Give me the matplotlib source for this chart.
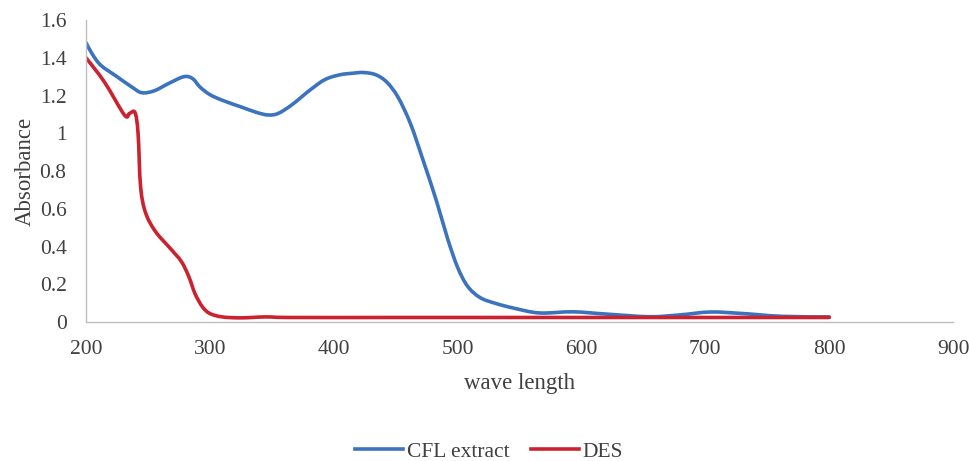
import matplotlib
matplotlib.use("Agg")
import matplotlib.pyplot as plt
from matplotlib.ticker import FixedLocator, FuncFormatter
from matplotlib.path import Path
from matplotlib.patches import PathPatch
from matplotlib.lines import Line2D

plt.rcParams['font.family'] = ['Liberation Serif', 'DejaVu Serif']

cfl_x = [200, 205, 212, 225, 237, 245, 255, 267, 279, 286, 292, 300, 310, 325, 338, 347, 355, 366,
         381, 393, 405, 415, 424, 434, 443, 452, 462, 472, 483, 492, 500, 508, 518, 530,
         545, 566, 593, 620, 655, 680, 704, 730, 762, 800]
cfl_y = [1.48, 1.42, 1.36, 1.30, 1.245, 1.215, 1.225, 1.265, 1.30, 1.29, 1.245, 1.205, 1.175, 1.14,
         1.11, 1.097, 1.105, 1.15, 1.23, 1.285, 1.31, 1.318, 1.322, 1.31, 1.27, 1.19, 1.05, 0.86,
         0.64, 0.44, 0.29, 0.19, 0.13, 0.10, 0.074, 0.048, 0.054, 0.042, 0.028, 0.038,
         0.053, 0.045, 0.030, 0.027]

des_x = [200, 215, 231, 235, 239.5, 242, 244, 248, 256, 268, 277, 283, 288, 294, 300,
         310, 325, 345, 365, 450, 550, 650, 800]
des_y = [1.40, 1.27, 1.097, 1.105, 1.11, 1.00, 0.72, 0.58, 0.48, 0.39, 0.32, 0.24, 0.15, 0.08, 0.045,
         0.027, 0.022, 0.027, 0.024, 0.024, 0.024, 0.024, 0.024]

series_names = ['CFL extract', 'DES']
x_ticks = [200, 300, 400, 500, 600, 700, 800, 900]
y_ticks = [0, 0.2, 0.4, 0.6, 0.8, 1.0, 1.2, 1.4, 1.6]

blue = '#3C73BE'
red = '#CC2230'
LW = 2.6


def smooth_path(xs, ys):
    """Excel-style smoothed line drawn as cubic Bezier segments through the data points."""
    n = len(xs)
    verts = [(xs[0], ys[0])]
    codes = [Path.MOVETO]
    for i in range(n - 1):
        x0, y0 = (xs[i - 1], ys[i - 1]) if i > 0 else (xs[i], ys[i])
        x1, y1 = xs[i], ys[i]
        x2, y2 = xs[i + 1], ys[i + 1]
        x3, y3 = (xs[i + 2], ys[i + 2]) if i + 2 < n else (x2, y2)
        c1 = (x1 + (x2 - x0) / 6.0, y1 + (y2 - y0) / 6.0)
        c2 = (x2 - (x3 - x1) / 6.0, y2 - (y3 - y1) / 6.0)
        verts += [c1, c2, (x2, y2)]
        codes += [Path.CURVE4] * 3
    return Path(verts, codes)


fig = plt.figure(figsize=(9.69, 4.61), dpi=100)
ax = fig.add_axes([0.0888, 0.3015, 0.8947, 0.655])

for xs, ys, c in [(cfl_x, cfl_y, blue), (des_x, des_y, red)]:
    patch = PathPatch(smooth_path(xs, ys), fill=False, edgecolor=c, lw=LW,
                      capstyle='round', joinstyle='round')
    ax.add_patch(patch)

ax.set_xlim(200, 900)
ax.set_ylim(0, 1.6)
ax.xaxis.set_major_locator(FixedLocator(x_ticks))
ax.yaxis.set_major_locator(FixedLocator(y_ticks))


def yfmt(v, pos):
    s = f"{v:.1f}"
    if s.endswith('.0'):
        s = s[:-2]
    return s


ax.yaxis.set_major_formatter(FuncFormatter(yfmt))

for s in ['top', 'right']:
    ax.spines[s].set_visible(False)
for s in ['left', 'bottom']:
    ax.spines[s].set_color('#BFBFBF')
    ax.spines[s].set_linewidth(1.0)

ax.tick_params(axis='both', length=0, labelsize=15.5, labelcolor='#404040')
ax.tick_params(axis='y', pad=14)
ax.tick_params(axis='x', pad=13)

ax.set_xlabel('wave length', fontsize=16.5, color='#404040', labelpad=10)
ax.set_ylabel('Absorbance', fontsize=16.5, color='#404040', labelpad=3)

handles = [Line2D([], [], color=blue, lw=LW), Line2D([], [], color=red, lw=LW)]
leg = fig.legend(handles, series_names, loc='lower center', bbox_to_anchor=(0.505, -0.006), ncol=2,
                 frameon=False, fontsize=15.5, handlelength=2.2, handletextpad=0.2, columnspacing=1.0,
                 borderaxespad=0.0, borderpad=0.1)
for t in leg.get_texts():
    t.set_color('#404040')

fig.savefig('out.png', dpi=100)
